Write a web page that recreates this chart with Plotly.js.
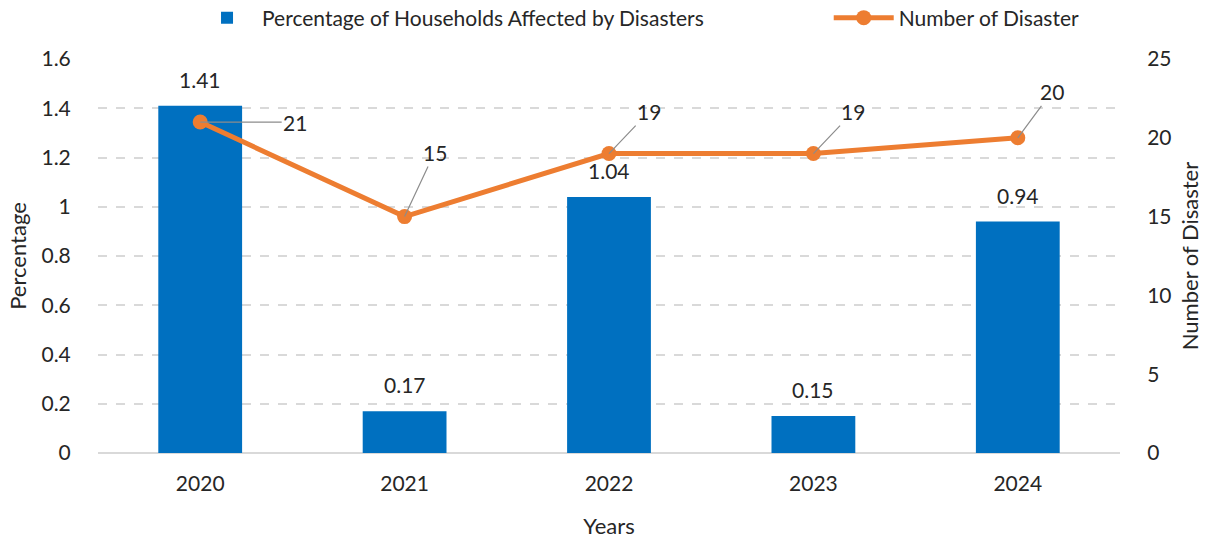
<!DOCTYPE html>
<html>
<head>
<meta charset="utf-8">
<script src="https://cdn.plot.ly/plotly-3.0.1.min.js"></script>
<style>html,body{margin:0;padding:0;background:#fff;}#chart{width:1210px;height:542px;}</style>
</head>
<body>
<div id="chart"></div>
<script>
const years = [2020, 2021, 2022, 2023, 2024];
const yearLabels = ["2020", "2021", "2022", "2023", "2024"];
const percentAffected = [1.41, 0.17, 1.04, 0.15, 0.94];
const disasterCount = [21, 15, 19, 19, 20];
const leaderOffsets = [[95, 0], [30, -64], [40, -42], [40, -42], [34, -46]];

const font = "Lato, 'Open Sans', sans-serif";
const textColor = "#262626";

const traces = [
  {
    type: "bar",
    x: years,
    y: percentAffected,
    name: "Percentage of Households Affected by Disasters",
    marker: {color: "#0070C0"},
    width: 0.41,
    legend: "legend"
  },
  {
    type: "scatter",
    mode: "lines+markers",
    x: years,
    y: disasterCount,
    yaxis: "y2",
    name: "Number of Disaster",
    line: {color: "#ED7D31", width: 5},
    marker: {color: "#ED7D31", size: 15},
    cliponaxis: false,
    legend: "legend2"
  }
];

const lineLabels = years.map((yr, i) => ({
  x: yr,
  y: disasterCount[i],
  xref: "x",
  yref: "y2",
  text: String(disasterCount[i]),
  showarrow: true,
  arrowhead: 0,
  arrowwidth: 1.2,
  arrowcolor: "#8c8c8c",
  ax: leaderOffsets[i][0],
  ay: leaderOffsets[i][1],
  font: {size: 21, color: textColor, family: font}
}));

const barLabels = years.map((yr, i) => ({
  x: yr,
  y: percentAffected[i],
  xref: "x",
  yref: "y",
  text: percentAffected[i].toFixed(2),
  showarrow: false,
  yanchor: "bottom",
  yshift: 12,
  font: {size: 21, color: textColor, family: font}
}));

const legendBase = {
  orientation: "h",
  xanchor: "left",
  y: 1.104, yanchor: "middle",
  font: {size: 21, color: textColor, family: font},
  itemwidth: 60,
  bgcolor: "rgba(0,0,0,0)"
};

const layout = {
  width: 1210,
  height: 542,
  margin: {l: 98, r: 90, t: 59, b: 89, autoexpand: false},
  paper_bgcolor: "#ffffff",
  plot_bgcolor: "#ffffff",
  font: {family: font, size: 21, color: textColor},
  showlegend: true,
  legend: Object.assign({}, legendBase, {x: 0.092}),
  legend2: Object.assign({}, legendBase, {x: 0.715}),
  xaxis: {
    type: "linear",
    range: [2019.5, 2024.5],
    tickvals: years,
    ticktext: yearLabels,
    showgrid: false,
    showline: false,
    zeroline: false,
    ticks: "outside",
    ticklen: 12,
    tickcolor: "rgba(0,0,0,0)",
    tickfont: {size: 21, color: textColor},
    title: {text: "Years", font: {size: 22, color: textColor}, standoff: 24}
  },
  yaxis: {
    range: [0, 1.6],
    dtick: 0.2,
    showgrid: true,
    gridcolor: "#d9d9d9",
    gridwidth: 2,
    griddash: "dash",
    zeroline: true,
    zerolinecolor: "#d9d9d9",
    zerolinewidth: 2,
    ticks: "outside",
    ticklen: 22,
    tickcolor: "rgba(0,0,0,0)",
    tickfont: {size: 21, color: textColor},
    title: {text: "Percentage", font: {size: 22, color: textColor}, standoff: 8}
  },
  yaxis2: {
    overlaying: "y",
    side: "right",
    range: [0, 25],
    dtick: 5,
    showgrid: false,
    zeroline: false,
    ticks: "outside",
    ticklen: 22,
    tickcolor: "rgba(0,0,0,0)",
    tickfont: {size: 21, color: textColor},
    title: {text: "Number of Disaster", font: {size: 22, color: textColor}, standoff: 12}
  },
  annotations: barLabels.concat(lineLabels)
};

Plotly.newPlot("chart", traces, layout, {displayModeBar: false, staticPlot: true});
</script>
</body>
</html>
